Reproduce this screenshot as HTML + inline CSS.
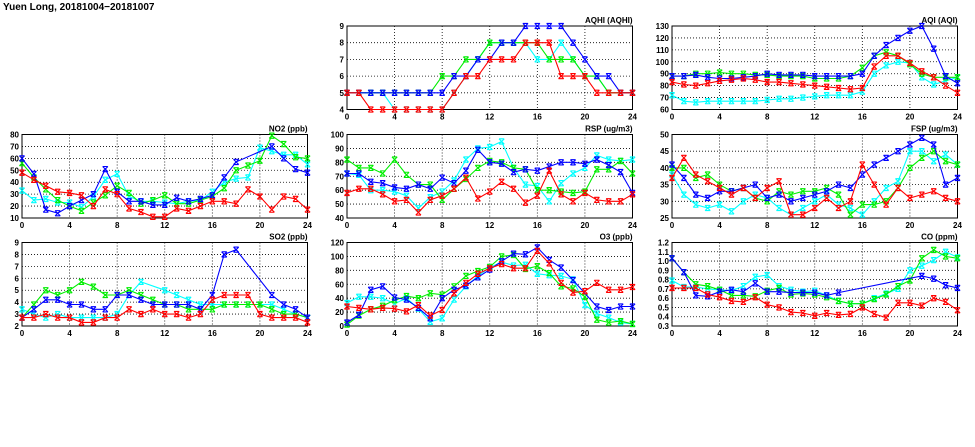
<!DOCTYPE html>
<html><head><meta charset="utf-8"><style>
html,body{margin:0;padding:0;background:#fff;width:975px;height:447px;overflow:hidden}
svg text{font-family:"Liberation Sans",sans-serif;font-weight:bold;fill:#000}
</style></head><body>
<svg id="chart" width="975" height="447" viewBox="0 0 975 447">
<text x="3" y="10" font-size="10">Yuen Long, 20181004−20181007</text>
</svg>
<script>
const hours=[0,1,2,3,4,5,6,7,8,9,10,11,12,13,14,15,16,17,18,19,20,21,22,23,24];
const xTicks=[0,4,8,12,16,20,24];
const seriesColors=["#ff0000","#00ffff","#00ee00","#0000ff"];
const N=null;
const aqhiRed=[5,5,4,4,4,4,4,4,4,5,6,6,7,7,7,8,8,8,6,6,6,5,5,5,5];
const aqhiCyan=[5,5,5,5,4,4,4,4,4,5,6,7,8,8,8,8,7,7,8,7,6,6,5,5,5];
const aqhiGreen=[5,5,5,5,5,5,5,5,6,6,7,7,8,8,8,8,8,7,7,7,6,6,5,5,5];
const aqhiBlue=[5,5,5,5,5,5,5,5,5,6,6,7,7,8,8,9,9,9,9,8,7,6,6,5,5];
const aqiRed=[83,81,80,82,84,85,86,85,83,83,82,81,80,79,78,77,78,96,105,105,99,92,87,80,74];
const aqiCyan=[72,67,66,67,67,67,67,67,68,69,69,70,71,72,72,72,75,90,97,100,99,87,81,84,87];
const aqiGreen=[88,88,90,90,91,90,90,89,89,88,88,88,86,86,86,88,95,105,108,105,98,90,87,87,87];
const aqiBlue=[88,88,89,87,86,86,87,88,90,89,89,89,88,88,88,88,90,105,114,120,126,130,111,88,82];
const no2Red=[48,42,37,32,31,29,20,34,30,18,15,11,11,18,16,20,24,24,22,34,28,17,28,26,17];
const no2Cyan=[33,25,26,23,23,19,28,42,47,28,24,24,23,22,24,25,32,40,43,44,69,66,63,63,55];
const no2Green=[56,44,34,25,20,16,23,29,37,31,22,25,29,22,22,25,28,35,50,54,58,79,72,61,60];
const no2Blue=[60,47,17,14,20,25,30,51,32,24,24,21,21,27,24,26,29,44,57,N,N,70,60,51,48];
const rspRed=[58,61,61,57,52,53,44,53,56,61,69,54,59,66,61,51,56,74,57,52,58,53,52,52,57];
const rspCyan=[72,71,60,60,59,56,47,55,59,67,82,90,91,95,76,64,63,52,65,72,76,85,82,81,82];
const rspGreen=[82,76,76,72,82,71,64,64,53,61,68,76,81,80,76,75,60,60,59,58,59,75,75,81,72];
const rspBlue=[72,72,66,65,62,61,64,61,69,65,74,89,80,79,73,75,74,77,80,80,79,82,78,73,58];
const fspRed=[37,43,38,36,34,32,34,31,34,36,26,26,28,31,28,30,41,35,29,34,31,32,33,31,30];
const fspCyan=[38,32,29,28,29,27,30,32,31,28,26,28,30,32,29,28,26,30,34,36,45,45,42,44,41];
const fspGreen=[40,40,37,38,35,33,34,31,30,33,32,33,33,34,32,26,29,29,30,34,40,43,45,42,41];
const fspBlue=[41,37,32,31,33,33,34,35,31,32,30,31,32,33,35,34,38,41,43,45,47,49,47,35,37];
const so2Red=[2.7,2.7,3.0,2.7,2.7,2.3,2.3,2.7,2.7,3.4,3.0,3.4,3.0,3.0,2.7,3.0,4.2,4.6,4.6,4.6,3.0,2.7,2.7,2.7,2.3];
const so2Cyan=[3.4,3.0,2.7,3.0,2.7,2.7,2.7,2.7,3.0,4.6,5.7,N,5.0,4.6,4.2,3.8,3.8,3.8,3.8,3.8,3.8,3.8,3.4,3.0,2.7];
const so2Green=[2.7,3.8,5.0,4.6,5.0,5.7,5.3,4.6,4.6,5.0,4.6,4.2,3.8,3.8,3.4,3.4,3.4,3.8,3.8,3.8,3.8,3.4,3.0,3.0,2.7];
const so2Blue=[2.7,3.4,4.2,4.2,3.8,3.8,3.4,3.4,4.6,4.6,4.2,3.8,3.8,3.8,3.8,3.4,4.6,8.0,8.4,N,N,4.6,3.8,3.4,2.7];
const o3Red=[28,26,24,26,25,21,30,15,23,47,62,75,83,89,83,83,108,90,62,48,50,62,52,52,56];
const o3Cyan=[33,42,42,40,32,40,25,6,11,38,57,72,84,92,87,88,75,73,72,67,30,18,12,5,3];
const o3Green=[2,15,24,29,37,43,40,47,45,57,72,79,85,100,102,82,86,76,57,54,42,9,5,7,3];
const o3Blue=[5,16,52,57,41,38,26,11,40,52,58,70,81,93,104,103,113,95,84,66,N,28,23,28,28];
const coRed=[0.71,0.71,0.71,0.64,0.61,0.57,0.56,0.61,0.53,0.50,0.45,0.44,0.41,0.44,0.42,0.43,0.50,0.43,0.39,0.55,0.55,0.52,0.60,0.56,0.47];
const coCyan=[0.79,0.72,0.72,0.70,0.69,0.68,0.73,0.83,0.85,0.73,0.69,0.67,0.68,0.63,0.57,0.54,0.54,0.60,0.65,0.70,0.90,0.95,1.01,1.10,1.04];
const coGreen=[1.03,0.88,0.75,0.73,0.69,0.63,0.63,0.62,0.68,0.71,0.64,0.65,0.64,0.61,0.57,0.54,0.54,0.59,0.64,0.73,0.79,1.03,1.12,1.05,1.03];
const coBlue=[1.03,0.88,0.63,0.62,0.67,0.69,0.67,0.76,0.67,0.67,0.66,0.66,0.66,0.63,0.66,N,N,N,N,N,N,0.84,0.81,0.74,0.71];
const aqhiTicks=[4,5,6,7,8,9];
const aqiTicks=[60,70,80,90,100,110,120,130];
const no2Ticks=[10,20,30,40,50,60,70,80];
const rspTicks=[40,50,60,70,80,90,100];
const fspTicks=[25,30,35,40,45,50];
const so2Ticks=[2,3,4,5,6,7,8,9];
const o3Ticks=[0,20,40,60,80,100,120];
const coTicks=[0.3,0.4,0.5,0.6,0.7,0.8,0.9,1.0,1.1,1.2];

const NS="http://www.w3.org/2000/svg";
const svg=document.getElementById('chart');
function mk(tag,attrs,parent){const e=document.createElementNS(NS,tag);for(const k in attrs)e.setAttribute(k,attrs[k]);(parent||svg).appendChild(e);return e;}
const cols=[22,347,672], W=285.5;
const rows=[26,134.5,242.5], H=83.5;
const panels=[
 {title:"AQHI (AQHI)",c:1,r:0,ticks:aqhiTicks,dec:0,s:[aqhiRed,aqhiCyan,aqhiGreen,aqhiBlue],name:"aqhi"},
 {title:"AQI (AQI)",c:2,r:0,ticks:aqiTicks,dec:0,s:[aqiRed,aqiCyan,aqiGreen,aqiBlue],name:"aqi"},
 {title:"NO2 (ppb)",c:0,r:1,ticks:no2Ticks,dec:0,s:[no2Red,no2Cyan,no2Green,no2Blue],name:"no2"},
 {title:"RSP (ug/m3)",c:1,r:1,ticks:rspTicks,dec:0,s:[rspRed,rspCyan,rspGreen,rspBlue],name:"rsp"},
 {title:"FSP (ug/m3)",c:2,r:1,ticks:fspTicks,dec:0,s:[fspRed,fspCyan,fspGreen,fspBlue],name:"fsp"},
 {title:"SO2 (ppb)",c:0,r:2,ticks:so2Ticks,dec:0,s:[so2Red,so2Cyan,so2Green,so2Blue],name:"so2"},
 {title:"O3 (ppb)",c:1,r:2,ticks:o3Ticks,dec:0,s:[o3Red,o3Cyan,o3Green,o3Blue],name:"o3"},
 {title:"CO (ppm)",c:2,r:2,ticks:coTicks,dec:1,s:[coRed,coCyan,coGreen,coBlue],name:"co"}
];
const names=["red","cyan","green","blue"];
const drawOrder=[1,2,3,0];
panels.forEach(p=>{
 const x0=cols[p.c], y0=rows[p.r];
 const lo=p.ticks[0], hi=p.ticks[p.ticks.length-1];
 const xs=v=>x0+v/24*W, ys=v=>y0+H-(v-lo)/(hi-lo)*H;
 const g=mk('g',{});
 
 
 p.ticks.forEach((t,i)=>{
  if(i>0&&i<p.ticks.length-1){const l=mk('line',{x1:x0,x2:x0+W,y1:ys(t),y2:ys(t),stroke:'#000','stroke-width':0.8,'stroke-dasharray':'1,2'},g);
   }
  const tx=mk('text',{x:x0-3,y:ys(t)+3,'font-size':8,'text-anchor':'end'},g);
  tx.textContent=t.toFixed(p.dec);
  
 });
 xTicks.forEach((t,i)=>{
  if(i>0&&i<xTicks.length-1){const l=mk('line',{x1:xs(t),x2:xs(t),y1:y0,y2:y0+H,stroke:'#000','stroke-width':0.8,'stroke-dasharray':'1,2'},g);
   }
  const tx=mk('text',{x:xs(t),y:y0+H+10,'font-size':8,'text-anchor':'middle'},g);
  tx.textContent=t;
  
 });
 const fr=mk('rect',{x:x0,y:y0,width:W,height:H,fill:'none',stroke:'#000','stroke-width':1},g);
 
 const ti=mk('text',{x:x0+W,y:y0-3,'font-size':8,'text-anchor':'end'},g);
 ti.textContent=p.title;
 
 drawOrder.forEach(si=>{
  const arr=p.s[si];
  const col=seriesColors[si];
  const pts=[];arr.forEach((v,i)=>{if(v!==null)pts.push([xs(hours[i]),ys(v)]);});
  const pl=mk('polyline',{points:pts.map(q=>q[0].toFixed(1)+','+q[1].toFixed(1)).join(' '),fill:'none',stroke:col,'stroke-width':1.1},g);
  
  
  pts.forEach(q=>{
   const s=2.6;
   const m=mk('path',{d:`M${q[0]-s},${q[1]-s}L${q[0]+s},${q[1]+s}M${q[0]-s},${q[1]+s}L${q[0]+s},${q[1]-s}M${q[0]-s},${q[1]-s}H${q[0]+s}M${q[0]-s},${q[1]+s}H${q[0]+s}`,stroke:col,'stroke-width':1.1,fill:'none'},g);
   
   
  });
 });
});
</script>
</body></html>
